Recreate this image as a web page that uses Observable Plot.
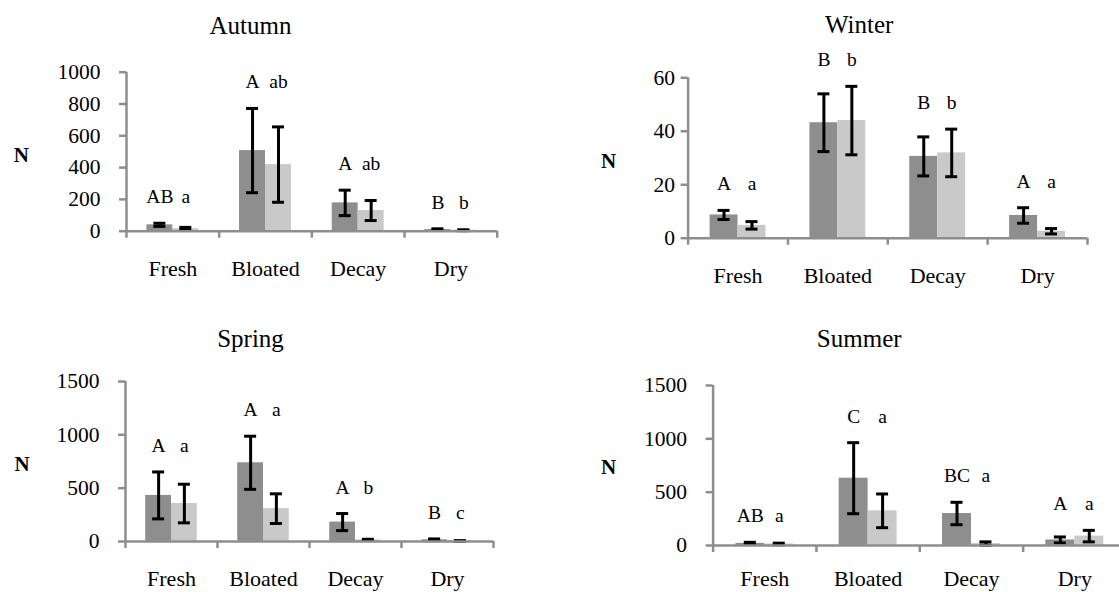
<!DOCTYPE html>
<html>
<head>
<meta charset="utf-8">
<script src="https://cdn.jsdelivr.net/npm/d3@7"></script>
<script src="https://cdn.jsdelivr.net/npm/@observablehq/plot@0.6"></script>
<style>
html, body { margin: 0; padding: 0; background: #fff; overflow: hidden; }
#root { position: relative; width: 1119px; height: 592px; overflow: hidden; background: #fff; }
.panel { position: absolute; }
#root svg { max-width: none !important; }
#root svg, #root svg text, #root svg tspan { font-family: "Liberation Serif", "Times New Roman", Times, serif !important; }
</style>
</head>
<body>
<div id="root"></div>
<script>
// ---------- data ----------
const stages = ["Fresh", "Bloated", "Decay", "Dry"];

const autumnDark = [40, 507, 178, 10];
const autumnDarkErr = [10, 265, 80, 5];
const autumnLight = [16, 419, 130, 6];
const autumnLightErr = [8, 237, 63, 3];
const autumnDarkLetters = ["AB", "A", "A", "B"];
const autumnLightLetters = ["a", "ab", "ab", "b"];
const autumnTicks = [0, 200, 400, 600, 800, 1000];

const winterDark = [8.7, 43.2, 30.6, 8.5];
const winterDarkErr = [1.7, 10.8, 7.3, 2.9];
const winterLight = [4.8, 44.0, 31.9, 2.6];
const winterLightErr = [1.4, 12.8, 8.9, 1.0];
const winterDarkLetters = ["A", "B", "B", "A"];
const winterLightLetters = ["a", "b", "b", "a"];
const winterTicks = [0, 20, 40, 60];

const springDark = [432, 738, 182, 16];
const springDarkErr = [220, 249, 80, 8];
const springLight = [356, 308, 15, 5];
const springLightErr = [181, 139, 6, 3];
const springDarkLetters = ["A", "A", "A", "B"];
const springLightLetters = ["a", "a", "b", "c"];
const springTicks = [0, 500, 1000, 1500];

const summerDark = [20, 631, 300, 52];
const summerDarkErr = [10, 333, 105, 28];
const summerLight = [14, 325, 18, 88];
const summerLightErr = [8, 158, 16, 54];
const summerDarkLetters = ["AB", "C", "BC", "A"];
const summerLightLetters = ["a", "a", "a", "a"];
const summerTicks = [0, 500, 1000, 1500];

// ---------- styles / layout ----------
const GRAY = "#8e8e8e";
const DARK = "#8e8e8e";
const LIGHT = "#c9c9c9";
const FONT = "Liberation Serif";

const layouts = {
  Autumn: {left: 0,   top: 0,   width: 560, height: 290, ml: 126,   mr: 63.3, mt: 71.7, mb: 59.3, titleX: 250,   titleY: 33.3, nX: 20.8, nY: 161.7, tp: 19, xp: 29},
  Winter: {left: 560, top: 0,   width: 559, height: 290, ml: 127.6, mr: 32,   mt: 77.3, mb: 52.3, titleX: 858.7, titleY: 32.3, nX: 608,  nY: 167,   tp: 6,  xp: 29},
  Spring: {left: 0,   top: 290, width: 560, height: 302, ml: 125,   mr: 67,   mt: 91,   mb: 51,   titleX: 250,   titleY: 346,  nX: 21.7, nY: 470,   tp: 19, xp: 29},
  Summer: {left: 560, top: 290, width: 580, height: 302, ml: 152.6, mr: 14,   mt: 95,   mb: 47,   titleX: 858.7, titleY: 346,  nX: 608,  nY: 473,   tp: 19, xp: 25}
};

function drawPanel(title, dark, darkErr, light, lightErr, darkLetters, lightLetters, ticks) {
  const L = layouts[title];
  const S = (L.width - L.ml - L.mr) / stages.length;
  const off = 0.14 * S;
  const cap = 6;
  const mk = (vals, errs, letters) => stages.map((s, i) => ({
    stage: s, v: vals[i], lo: vals[i] - errs[i], hi: vals[i] + errs[i], letter: letters[i]
  }));
  const darkRows = mk(dark, darkErr, darkLetters);
  const lightRows = mk(light, lightErr, lightLetters);
  darkRows.forEach((d, i) => { d.top = Math.max(d.hi, lightRows[i].hi); });
  lightRows.forEach((d, i) => { d.top = darkRows[i].top; });

  const err = (rows, sign) => [
    Plot.ruleX(rows, {x: "stage", y1: "lo", y2: "hi", dx: sign * off, stroke: "black", strokeWidth: 3}),
    Plot.tickY(rows, {x: "stage", y: "lo", insetLeft: S / 2 + sign * off - cap, insetRight: S / 2 - sign * off - cap, stroke: "black", strokeWidth: 3}),
    Plot.tickY(rows, {x: "stage", y: "hi", insetLeft: S / 2 + sign * off - cap, insetRight: S / 2 - sign * off - cap, stroke: "black", strokeWidth: 3})
  ];

  const chart = Plot.plot({
    width: L.width,
    height: L.height,
    marginLeft: L.ml,
    marginRight: L.mr,
    marginTop: L.mt,
    marginBottom: L.mb,
    x: {domain: stages, padding: 0, round: false},
    y: {domain: [0, ticks[ticks.length - 1]]},
    style: {fontFamily: FONT, fontSize: "20px", color: "black", background: "transparent", overflow: "visible", maxWidth: "none"},
    marks: [
      Plot.barY(darkRows, {x: "stage", y: "v", fill: DARK, insetLeft: 0.22 * S, insetRight: 0.5 * S}),
      Plot.barY(lightRows, {x: "stage", y: "v", fill: LIGHT, insetLeft: 0.5 * S, insetRight: 0.22 * S}),
      ...err(darkRows, -1),
      ...err(lightRows, 1),
      Plot.ruleY([0], {stroke: GRAY, strokeWidth: 2.5}),
      Plot.ruleX([stages[0]], {x: d => d, dx: -S / 2, insetBottom: -7, stroke: GRAY, strokeWidth: 2.5}),
      Plot.ruleX(stages.slice(1), {x: d => d, y1: () => 0, y2: () => 0, dx: -S / 2, insetBottom: -7, stroke: GRAY, strokeWidth: 2.5}),
      Plot.ruleX([stages[stages.length - 1]], {x: d => d, y1: () => 0, y2: () => 0, dx: S / 2, insetBottom: -7, stroke: GRAY, strokeWidth: 2.5}),
      Plot.axisY({ticks: ticks, tickFormat: d => String(d), tickSize: 7, tickPadding: L.tp, stroke: GRAY, strokeWidth: 2.5, fill: "black", fontSize: 21.5, fontFamily: FONT, label: null}),
      Plot.axisX({tickSize: 0, tickPadding: L.xp, fill: "black", fontSize: 22, fontFamily: FONT, label: null}),
      Plot.text(darkRows, {x: "stage", y: "top", text: "letter", dx: -off, dy: -20, lineAnchor: "bottom", fontSize: 19.5, fontFamily: FONT, fill: "black"}),
      Plot.text(lightRows, {x: "stage", y: "top", text: "letter", dx: off, dy: -20, lineAnchor: "bottom", fontSize: 19.5, fontFamily: FONT, fill: "black"}),
      Plot.text([title], {frameAnchor: "top-left", dx: L.titleX - L.left - L.ml, dy: L.titleY - L.top - L.mt, textAnchor: "middle", lineAnchor: "bottom", fontSize: 25, fontFamily: FONT, fill: "black"}),
      Plot.text(["N"], {frameAnchor: "top-left", dx: L.nX - L.left - L.ml, dy: L.nY - L.top - L.mt, textAnchor: "middle", lineAnchor: "bottom", fontSize: 21, fontWeight: "bold", fontFamily: FONT, fill: "black"})
    ]
  });

  const div = document.createElement("div");
  div.className = "panel";
  div.style.left = L.left + "px";
  div.style.top = L.top + "px";
  div.style.width = L.width + "px";
  div.style.height = L.height + "px";
  div.appendChild(chart);
  document.getElementById("root").appendChild(div);
}

drawPanel("Autumn", autumnDark, autumnDarkErr, autumnLight, autumnLightErr, autumnDarkLetters, autumnLightLetters, autumnTicks);
drawPanel("Winter", winterDark, winterDarkErr, winterLight, winterLightErr, winterDarkLetters, winterLightLetters, winterTicks);
drawPanel("Spring", springDark, springDarkErr, springLight, springLightErr, springDarkLetters, springLightLetters, springTicks);
drawPanel("Summer", summerDark, summerDarkErr, summerLight, summerLightErr, summerDarkLetters, summerLightLetters, summerTicks);
</script>
</body>
</html>
